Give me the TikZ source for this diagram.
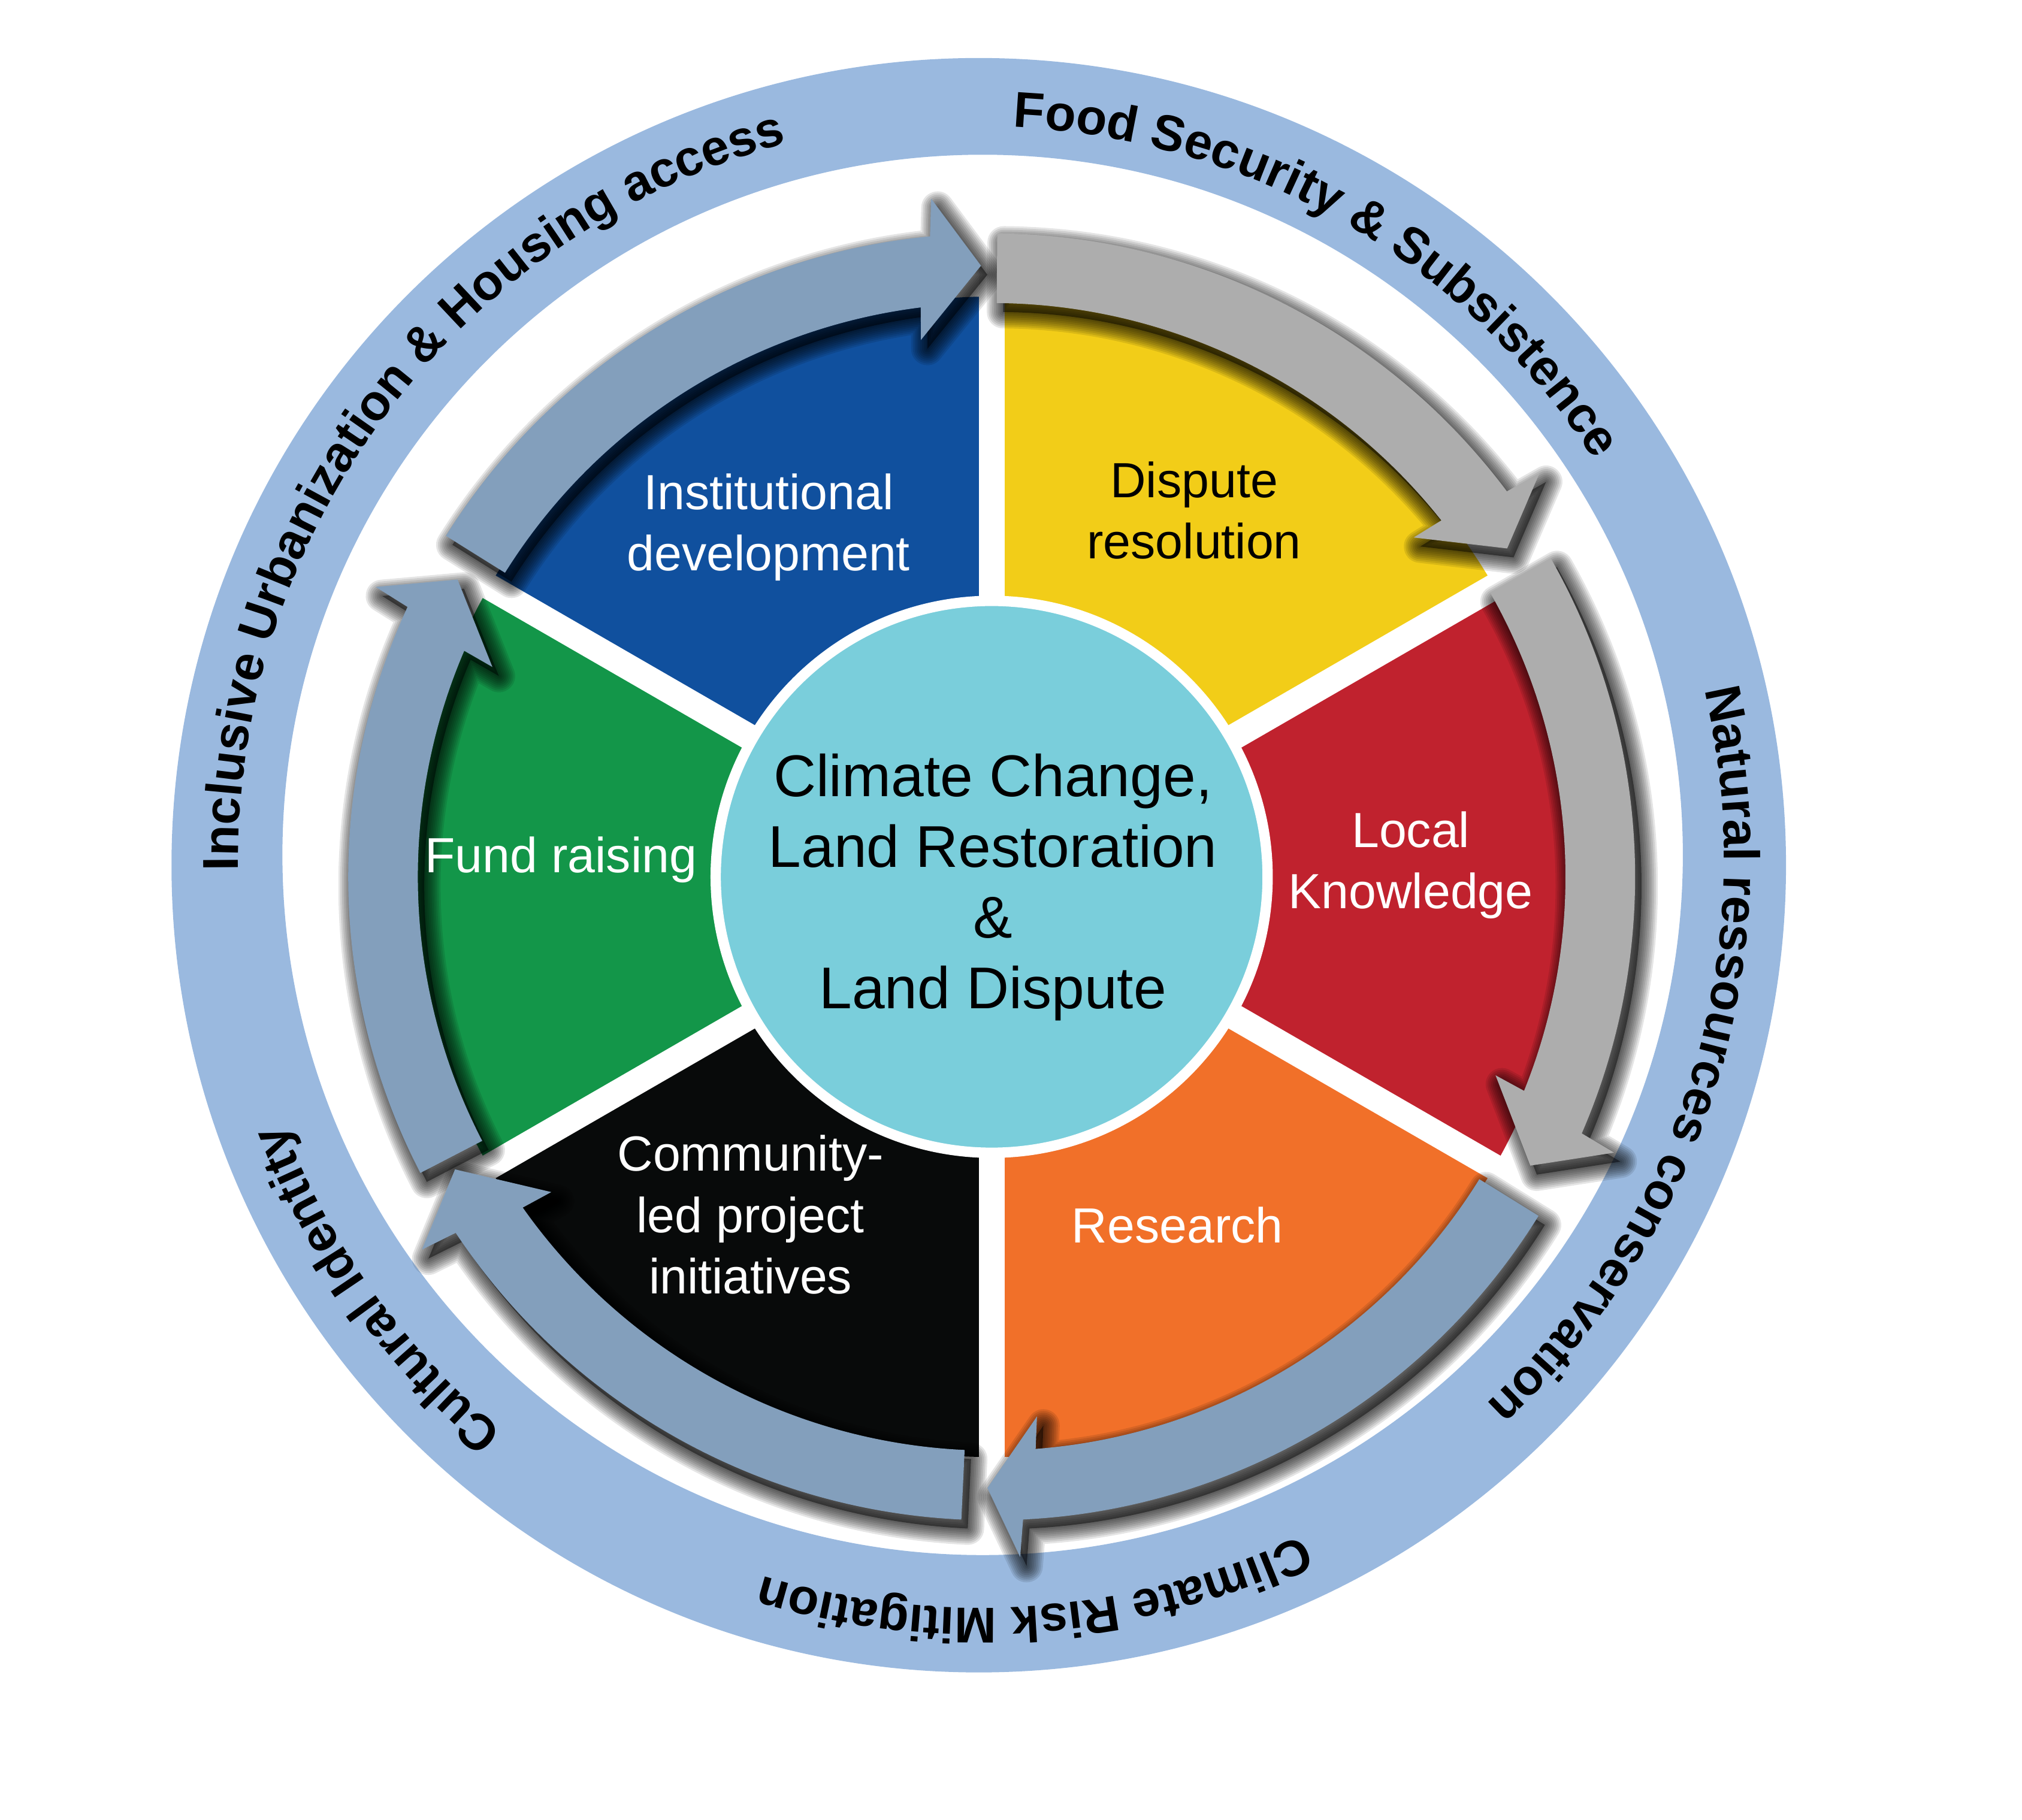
\documentclass[tikz,border=0pt]{standalone}
\usepackage{fontspec}
\setmainfont{Liberation Sans}
\usetikzlibrary{decorations.text}

\definecolor{ringblue}{HTML}{9AB9DF}
\definecolor{arrowblue}{HTML}{839FBC}
\definecolor{arrowgrey}{HTML}{ADADAD}
\definecolor{secblue}{HTML}{10509E}
\definecolor{secyellow}{HTML}{F2CD18}
\definecolor{secred}{HTML}{C0222E}
\definecolor{secorange}{HTML}{F17029}
\definecolor{secblack}{HTML}{080A0A}
\definecolor{secgreen}{HTML}{139649}
\definecolor{hubcyan}{HTML}{7ACEDB}

\newcommand\ringfont{\fontsize{11.1pt}{13pt}\selectfont\bfseries}
% curved band with its head: tail angle, head angle, tip angle
\newcommand\cyclepath[3]{(#1:499) arc[start angle=#1, end angle=#2-0.8, radius=499]
  -- (#2-1.2:528) -- (#3:474) -- (#2+1.2:420) -- (#2+0.8:445)
  arc[start angle=#2+0.8, end angle=#1, radius=445] -- cycle}

\begin{document}
\begin{tikzpicture}[x=0.1mm, y=0.1mm,
  sectorlabel/.style={font=\fontsize{10.9pt}{13.5pt}\selectfont, align=center, text=white, inner sep=0pt},
  corelabel/.style={font=\fontsize{13pt}{15.6pt}\selectfont, align=center, inner sep=0pt},
  ringtext/.style={decorate, decoration={text along path, text align=center, text={|\ringfont|#1}}}]
\useasboundingbox (-769,-731) rectangle (799,680);

% outer ring
\fill[ringblue, even odd rule] (-10,9) circle[radius=626] (-7,17) circle[radius=543];

% sectors and gaps
\foreach \a/\c in {90/secblue,30/secyellow,-30/secred,-90/secorange,-150/secblack,150/secgreen}
  \fill[\c] (0,0) -- (\a:450) arc[start angle=\a, end angle=\a+60, radius=450] -- cycle;
\foreach \a in {30,90,...,330}
  \draw[white, line width=5.7pt] (0,0) -- (\a:480);

\node[circle, fill=hubcyan, draw=white, line width=0.8mm, minimum size=42.8mm, inner sep=0pt] (hub) at (0,0) {};

% shadows
\foreach \s/\b/\t in {148/96.3/91, 89.5/37.6/32.5, 29.7/-22.7/-28.2, -31.8/-86.4/-90.4, -92.7/-145.6/-151.4, 207.4/156/150.9} {
  \fill[shift={(5,-7)}, black, fill opacity=0.45] \cyclepath{\s}{\b}{\t};
  \foreach \k [evaluate=\k as \w using \k*0.8] in {1,...,9}
    \path[shift={(5,-7)}, draw=black, draw opacity=0.1, line width=\w pt, line join=round] \cyclepath{\s}{\b}{\t};
}

% arrows
\foreach \s/\b/\t/\c in {148/96.3/91/arrowblue, 89.5/37.6/32.5/arrowgrey, 29.7/-22.7/-28.2/arrowgrey,
    -31.8/-86.4/-90.4/arrowblue, -92.7/-145.6/-151.4/arrowblue, 207.4/156/150.9/arrowblue}
  \fill[\c] \cyclepath{\s}{\b}{\t};

% labels
\node[sectorlabel] (instdev) at (-173,271) {Institutional\\development};
\node[sectorlabel, text=black] (dispute) at (157,284) {Dispute\\resolution};
\node[sectorlabel] (localk) at (325,9) {Local\\Knowledge};
\node[sectorlabel] (research) at (144,-270) {Research};
\node[sectorlabel] (community) at (-187,-262) {Community-\\led project\\initiatives};
\node[sectorlabel] (fundr) at (-334,13) {Fund raising};
\node[corelabel] (coretext) at (1,-8) {Climate Change,\\Land Restoration\\\&\\Land Dispute};

% ring texts
\begin{scope}[shift={(-9,14)}]
\path[ringtext={Food Security {\&} Subsistence}] (120.2:568) arc[start angle=120.2, end angle=0.2, radius=568];
\path[ringtext={Inclusive Urbanization {\&} Housing access}] (203:575) arc[start angle=203, end angle=83, radius=575];
\path[ringtext={Natural ressources conservation}] (43:577) arc[start angle=43, end angle=-77, radius=577];
\path[ringtext={Climate Risk Mitigation}] (-25.7:581) arc[start angle=-25.7, end angle=-145.7, radius=581];
\path[ringtext={Cultural Identity}] (275.5:578) arc[start angle=275.5, end angle=155.5, radius=578];
\end{scope}
\end{tikzpicture}
\end{document}
